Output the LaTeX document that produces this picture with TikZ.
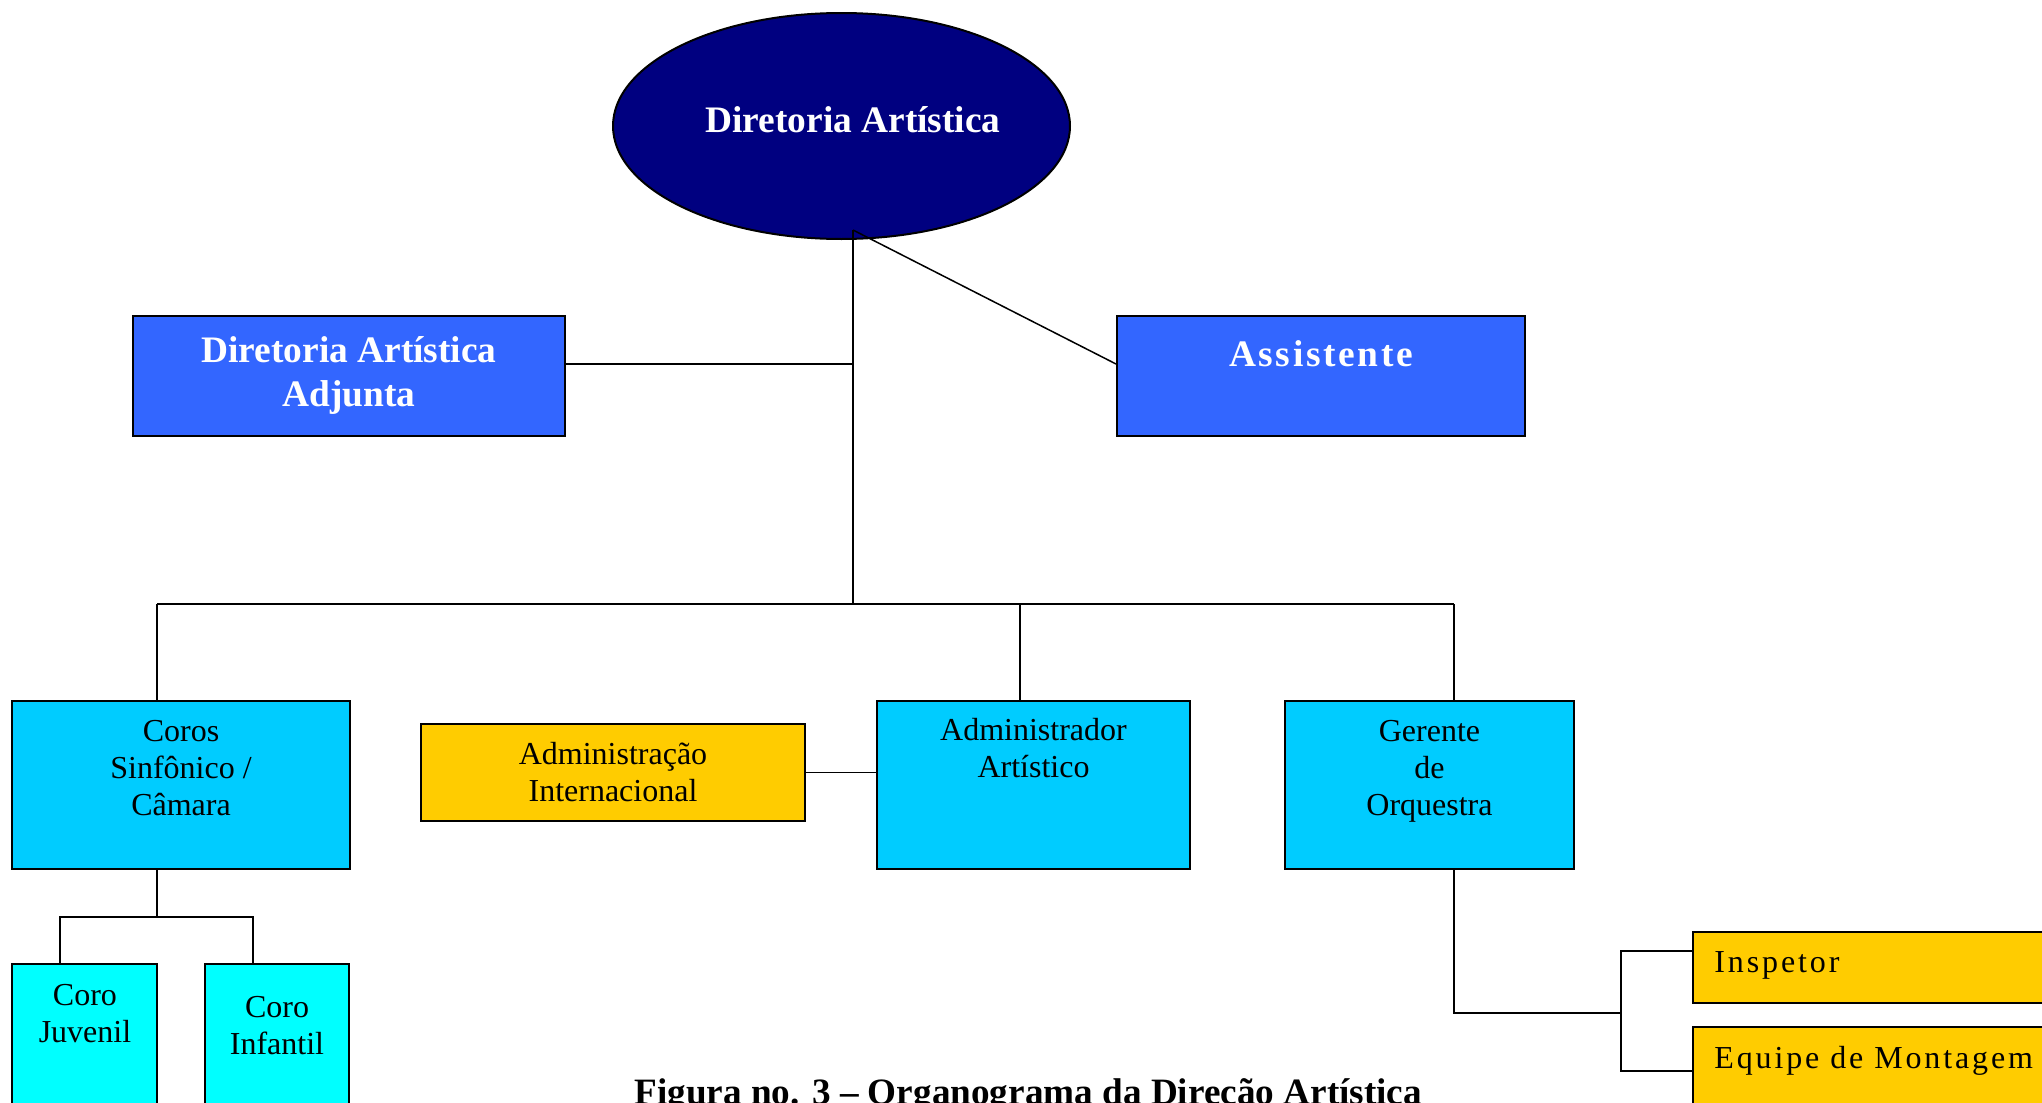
\documentclass[tikz,border=0pt]{standalone}
\usepackage{fontspec}
\setmainfont{Liberation Serif}
\newfontfamily\asstfont[LetterSpace=7]{Liberation Serif}
\newfontfamily\spacedfont[LetterSpace=9]{Liberation Serif}
\usetikzlibrary{shapes.geometric,fit}
\definecolor{navyb}{RGB}{0,0,128}
\definecolor{blueb}{RGB}{51,102,255}
\definecolor{cyanb}{RGB}{0,204,255}
\definecolor{aquab}{RGB}{0,255,255}
\definecolor{yelb}{RGB}{255,204,0}
\newcommand\tstr[1]{\rule{0pt}{#1}}
\begin{document}
\begin{tikzpicture}[x=0.5pt,y=-0.5pt,
  box/.style={draw=black, line width=1pt, inner sep=0pt, rectangle},
  conn/.style={draw=black, line width=0.75pt},
  lbl/.style={inner sep=0pt, align=center, font=\fontsize{16}{18.5}\selectfont},
  blbl/.style={inner sep=0pt, align=center, text=white, font=\fontsize{18.7}{22}\selectfont\bfseries}]
\path[use as bounding box] (0,0) rectangle (2042,1103);
\clip (0,0) rectangle (2042,1103);

% boxes
\node[ellipse, draw=black, line width=1pt, fill=navyb, minimum width=228.5pt, minimum height=113pt, inner sep=0pt] (da) at (841.5,126) {};
\node[box, fill=blueb, fit={(133,316) (565,436)}] (adj) {};
\node[box, fill=blueb, fit={(1117,316) (1525,436)}] (asst) {};
\node[box, fill=cyanb, fit={(12,701) (350,869)}] (coros) {};
\node[box, fill=yelb, fit={(421,724) (805,821)}] (intl) {};
\node[box, fill=cyanb, fit={(877,701) (1190,869)}] (adm) {};
\node[box, fill=cyanb, fit={(1285,701) (1574,869)}] (ger) {};
\node[box, fill=aquab, fit={(12,964) (157,1140)}] (juv) {};
\node[box, fill=aquab, fit={(205,964) (349,1140)}] (inf) {};
\node[box, fill=yelb, fit={(1693,932) (2090,1003)}] (insp) {};
\node[box, fill=yelb, fit={(1693,1027) (2090,1140)}] (equipe) {};

% texts
\node[blbl, anchor=base] (da-t) at (853,132) {Diretoria Artística};
\node[blbl, anchor=north] (adj-t) at (349,326) {\tstr{18pt}Diretoria Artística\\Adjunta};
\node[blbl, anchor=base] (asst-t) at (1321,366) {\asstfont\bfseries Assistente};
\node[lbl, anchor=north] (coros-t) at (181,709) {\tstr{16pt}Coros\\Sinfônico /\\Câmara};
\node[lbl, anchor=north] (intl-t) at (613,732) {\tstr{16pt}Administração\\Internacional};
\node[lbl, anchor=north] (adm-t) at (1033.5,708) {\tstr{16pt}Administrador\\Artístico};
\node[lbl, anchor=north] (ger-t) at (1429.5,709) {\tstr{16pt}Gerente\\de\\Orquestra};
\node[lbl, anchor=north] (juv-t) at (85,973) {\tstr{16pt}Coro\\Juvenil};
\node[lbl, anchor=north] (inf-t) at (277,985) {\tstr{16pt}Coro\\Infantil};
\node[lbl, anchor=base west] (insp-t) at (1714,972) {\spacedfont Inspetor};
\node[lbl, anchor=base west] (equipe-t) at (1714,1068) {\spacedfont Equipe de Montagem};
\node[inner sep=0pt, anchor=base west, font=\fontsize{18.6}{22}\selectfont\bfseries] (cap) at (634,1104) {Figura no. 3 – Organograma da Direção Artística};

% junction coordinates
\coordinate (apex) at (853,230);
\coordinate (jc) at (853,604);
\coordinate (jm) at (853,364);
\coordinate (jl) at (157,604);
\coordinate (ja) at (1020,604);
\coordinate (jr) at (1454,604);
\coordinate (jcoro) at (157,917);
\coordinate (jjv) at (60,917);
\coordinate (jin) at (253,917);
\coordinate (jg) at (1454,1013);
\coordinate (jb) at (1621,1013);
\coordinate (jbt) at (1621,951);
\coordinate (jbb) at (1621,1071);

% connectors
\draw[conn] (apex) -- (jc);
\draw[conn] (adj.east |- jm) -- (jm);
\draw[conn] (apex) -- (asst.west |- jm);
\draw[conn] (jl) -- (jr);
\draw[conn] (jl) -- (jl |- coros.north);
\draw[conn] (ja) -- (ja |- adm.north);
\draw[conn] (jr) -- (jr |- ger.north);
\draw[conn] (intl.east) -- (adm.west |- intl.east);
\draw[conn] (jcoro |- coros.south) -- (jcoro);
\draw[conn] (jjv |- juv.north) -- (jjv) -- (jin) -- (jin |- inf.north);
\draw[conn] (jg |- ger.south) -- (jg) -- (jb);
\draw[conn] (insp.west |- jbt) -- (jbt) -- (jbb) -- (equipe.west |- jbb);
\end{tikzpicture}
\end{document}
